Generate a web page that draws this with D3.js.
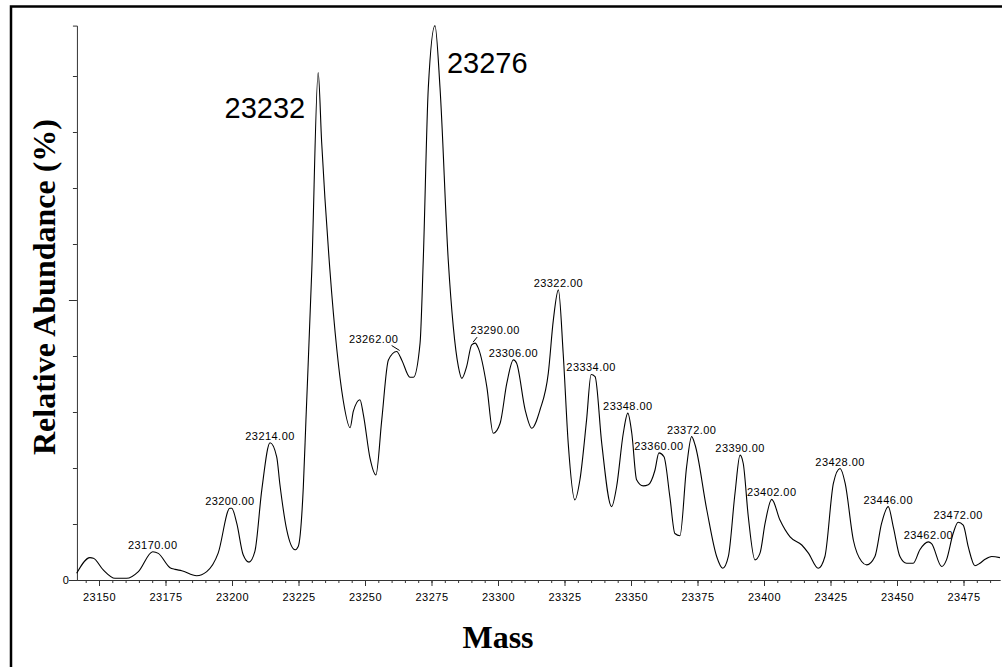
<!DOCTYPE html>
<html>
<head>
<meta charset="utf-8">
<script src="https://cdn.jsdelivr.net/npm/d3@7"></script>
<style>
  body { margin: 0; background: #fff; }
  svg { display: block; }
</style>
</head>
<body>
<script>
// spectrum
const mass = [23141.6, 23146.6, 23147.9, 23151.6, 23156.0, 23160.4, 23164.8, 23170.2, 23172.3, 23176.7,
  23178.6, 23181.1, 23186.7, 23190.5, 23194.8, 23199.2, 23199.9, 23201.8, 23204.2, 23206.4,
  23208.6, 23211.2, 23214.3, 23216.8, 23218.0, 23220.6, 23223.7, 23224.9, 23226.8, 23227.8,
  23230.0, 23232.4, 23233.7, 23236.8, 23239.4, 23241.8, 23244.4, 23245.6, 23248.1, 23249.4,
  23251.9, 23254.1, 23256.3, 23258.8, 23261.9, 23263.8, 23266.9, 23268.2, 23270.7, 23271.9,
  23273.8, 23276.3, 23278.2, 23281.3, 23283.2, 23285.1, 23286.4, 23288.2, 23290.1, 23291.4,
  23292.6, 23295.8, 23298.2, 23300.8, 23303.3, 23305.8, 23307.0, 23310.2, 23312.7, 23315.8,
  23318.9, 23320.8, 23322.7, 23324.5, 23326.4, 23328.9, 23330.8, 23333.3, 23335.0, 23336.5,
  23339.0, 23342.7, 23344.6, 23347.1, 23348.8, 23350.3, 23352.1, 23354.6, 23356.5, 23359.0,
  23360.5, 23362.4, 23364.6, 23366.5, 23368.4, 23370.9, 23372.8, 23374.1, 23378.5, 23382.2,
  23384.5, 23386.6, 23389.1, 23391.0, 23392.2, 23394.1, 23396.6, 23398.5, 23400.4, 23402.9,
  23406.0, 23409.8, 23414.2, 23416.7, 23420.4, 23422.9, 23426.1, 23428.6, 23430.5, 23433.6,
  23436.7, 23438.6, 23441.7, 23444.2, 23446.7, 23448.6, 23451.1, 23453.6, 23456.1, 23458.6,
  23461.8, 23463.0, 23466.8, 23468.6, 23471.1, 23473.0, 23474.9, 23476.8, 23479.3, 23481.2,
  23483.1, 23485.6, 23488.7]
const abundance = [1.2, 4.0, 3.9, 1.8, 0.3, 0.3, 1.5, 5.05, 4.75, 2.2,
  1.9, 1.66, 0.77, 1.5, 4.8, 12.8, 12.8, 10.1, 4.5, 3.2,
  5.1, 16.1, 24.5, 22.0, 17.1, 8.9, 5.4, 6.0, 16.5, 28.6,
  55.4, 90.6, 78.2, 55.4, 41.2, 32.1, 27.2, 30.1, 32.2, 29.5,
  21.7, 18.75, 28.6, 39.3, 40.8, 39.3, 36.2, 36.2, 42.3, 57.1,
  87.9, 99.0, 87.9, 57.1, 45.2, 38.1, 36.0, 38.1, 42.0, 42.3,
  41.4, 34.5, 26.2, 28.0, 35.1, 39.3, 38.7, 30.4, 27.1, 30.4,
  36.9, 46.4, 51.8, 40.5, 24.4, 14.3, 17.9, 28.6, 36.7, 36.3,
  24.4, 13.1, 16.7, 26.2, 29.8, 26.2, 17.9, 16.8, 17.0, 19.6,
  22.7, 22.0, 14.9, 8.3, 7.9, 20.2, 25.6, 24.1, 12.5, 4.2,
  2.1, 4.2, 15.5, 22.3, 20.8, 11.3, 3.6, 4.8, 10.1, 14.4,
  10.7, 7.7, 6.25, 4.8, 2.1, 4.2, 17.3, 19.9, 17.3, 7.1,
  3.3, 2.7, 4.2, 10.1, 13.1, 9.5, 4.2, 3.0, 3.0, 5.4,
  6.8, 6.5, 2.4, 3.6, 8.3, 10.3, 9.8, 5.9, 2.55, 3.0,
  3.7, 4.2, 4.0]

// peak annotations
const peakMass = [23170, 23200, 23214, 23262, 23290, 23306, 23322, 23334, 23348, 23360,
  23372, 23390, 23402, 23428, 23446, 23462, 23472]
const bigPeakMass = [23232, 23276]

const xTicks = d3.range(23150, 23476, 25)
const xMinorTicks = d3.range(23145, 23490, 5)
const yTicks = d3.range(0, 100, 10)
const yTickLabels = ['0']

const width = 1002
const height = 667

const x = d3.scaleLinear().domain([23150, 23475]).range([99, 963.5])
const y = d3.scaleLinear().domain([0, 100]).range([580, 20])
const xStart = 23141.7, xEnd = 23488.7

const data = mass.map((m, i) => ({ m: m, v: abundance[i] }))

const svg = d3.select('body').append('svg')
  .attr('width', width)
  .attr('height', height)
  .attr('viewBox', [0, 0, width, height])

// outer frame (only top and left edges show)
svg.append('rect')
  .attr('x', 11).attr('y', 6.5)
  .attr('width', 1200).attr('height', 1000)
  .attr('fill', 'none').attr('stroke', '#000').attr('stroke-width', 2.5)

const axisColor = '#333'
const tickFont = "'Liberation Sans', Arial, sans-serif"

// x axis
const xAxisScale = x.copy().domain([xStart, xEnd]).range([x(xStart), x(xEnd)])
const gx = svg.append('g').attr('transform', `translate(0,${y(0)})`)
gx.call(d3.axisBottom(xAxisScale).tickValues(xMinorTicks).tickSize(3).tickFormat('').tickSizeOuter(0))
gx.append('g').call(d3.axisBottom(xAxisScale).tickValues(xTicks).tickSize(6).tickSizeOuter(0).tickFormat(d3.format('d')))
gx.selectAll('path.domain').attr('stroke', axisColor)
gx.selectAll('line').attr('stroke', axisColor)
gx.selectAll('text')
  .attr('fill', '#000')
  .attr('font-family', tickFont)
  .attr('font-size', 11)
  .attr('dy', '1.05em')
  .style('letter-spacing', '0.5px')

// y axis
const yAxisScale = y.copy().domain([0, 99]).range([y(0), y(99)])
const gy = svg.append('g').attr('transform', `translate(${x(xStart)},0)`)
gy.call(d3.axisLeft(yAxisScale).tickValues(yTicks).tickSizeOuter(0)
  .tickSize(4)
  .tickFormat(d => yTickLabels.includes(String(d)) ? d : ''))
gy.selectAll('.tick line').attr('x2', d => (d === 0 || d === 50) ? -8 : -4)
gy.selectAll('path.domain').attr('stroke', axisColor)
gy.selectAll('line').attr('stroke', axisColor)
gy.selectAll('text')
  .attr('x', -8)
  .attr('fill', '#000')
  .attr('font-family', tickFont)
  .attr('font-size', 11)

// spectrum line
const line = d3.line()
  .x(d => x(d.m))
  .y(d => y(d.v))
  .curve(d3.curveMonotoneX)

svg.append('path')
  .datum(data)
  .attr('fill', 'none')
  .attr('stroke', '#000')
  .attr('stroke-width', 1.1)
  .attr('d', line)

// find the local top of the curve near a labelled mass
const topNear = m => {
  const near = data.filter(d => Math.abs(d.m - m) <= 2)
  return near.reduce((a, b) => b.v > a.v ? b : a)
}

// small peak labels
const labelShift = { 23262: [-23, -9], 23290: [20, -9] }
peakMass.forEach(m => {
  const p = topNear(m)
  const px = x(p.m), py = y(p.v)
  const s = labelShift[m] || [0, -3]
  svg.append('text')
    .attr('x', px + s[0])
    .attr('y', py + s[1])
    .attr('text-anchor', 'middle')
    .attr('font-family', tickFont)
    .attr('font-size', 11)
    .style('letter-spacing', '0.45px')
    .text(m.toFixed(2))
  if (labelShift[m]) {
    const lx = m === 23262 ? px - 5 : px + 2
    svg.append('line')
      .attr('x1', lx).attr('y1', py - 6)
      .attr('x2', m === 23262 ? px + 3 : px - 2).attr('y2', py - 1)
      .attr('stroke', '#000').attr('stroke-width', 1)
  }
})

// main peak labels
bigPeakMass.forEach((m, i) => {
  const p = topNear(m)
  svg.append('text')
    .attr('x', i === 0 ? x(p.m) - 13 : x(p.m) + 12)
    .attr('y', y(p.v) + (i === 0 ? 45 : 47))
    .attr('text-anchor', i === 0 ? 'end' : 'start')
    .attr('font-family', tickFont)
    .attr('font-size', 29)
    .text(m)
})

// axis titles
svg.append('text')
  .attr('transform', 'translate(55,287) rotate(-90)')
  .attr('text-anchor', 'middle')
  .attr('font-family', "'Liberation Serif', 'Times New Roman', serif")
  .attr('font-weight', 'bold')
  .attr('font-size', 32)
  .text('Relative Abundance (%)')

svg.append('text')
  .attr('x', 498)
  .attr('y', 648)
  .attr('text-anchor', 'middle')
  .attr('font-family', "'Liberation Serif', 'Times New Roman', serif")
  .attr('font-weight', 'bold')
  .attr('font-size', 32)
  .text('Mass')
</script>
</body>
</html>
